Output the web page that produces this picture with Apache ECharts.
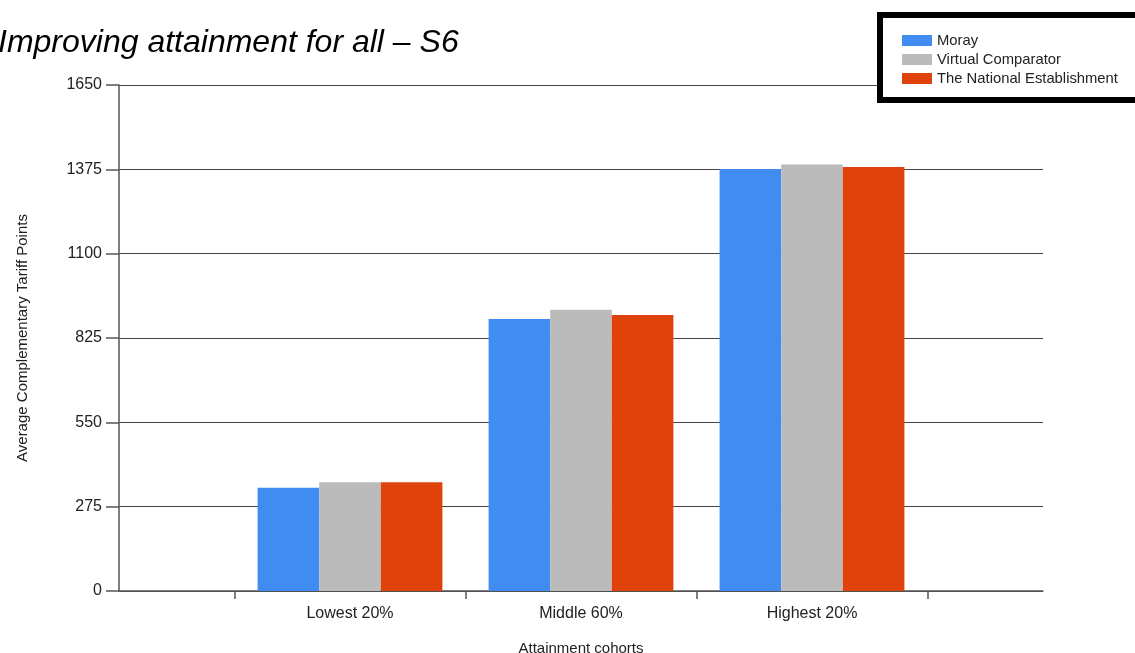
<!DOCTYPE html>
<html>
<head>
<meta charset="utf-8">
<script src="https://cdn.jsdelivr.net/npm/echarts@6/dist/echarts.min.js"></script>
<style>
  html, body { margin: 0; padding: 0; background: #fff; }
  #chart { width: 1135px; height: 653px; }
</style>
</head>
<body>
<div id="chart"></div>
<script>
// padded with empty slots either side so the cohorts sit where the original puts them
const cohorts = ["", "Lowest 20%", "Middle 60%", "Highest 20%", ""];
const seriesNames = ["Moray", "Virtual Comparator", "The National Establishment"];
const moray = [337, 887, 1376];
const virtualComparator = [355, 917, 1391];
const nationalEstablishment = [355, 900, 1383];
const cohortTicks = [0.5, 1.5, 2.5, 3.5];
const colors = ["#418cf0", "#bbbbbb", "#e0420c"];

const FONT = "'Liberation Sans', Arial, sans-serif";
const chart = echarts.init(document.getElementById("chart"));

const pad = (values) => [null, ...values, null];

const makeBar = (name, values, color) => ({
    name,
    type: "bar",
    xAxisIndex: 0,
    data: pad(values),
    itemStyle: { color },
    barGap: 0,
    barCategoryGap: "20%",
    emphasis: { disabled: true },
});

const option = {
    animation: false,
    title: {
        text: "Improving attainment for all \u2013 S6",
        left: -2,
        top: 27,
        padding: 0,
        textStyle: {
            fontFamily: FONT,
            fontStyle: "italic",
            fontWeight: "normal",
            fontSize: 32,
            lineHeight: 32,
            color: "#000",
        },
    },
    legend: {
        orient: "vertical",
        left: 902,
        top: 33,
        padding: 0,
        z: 6,
        itemWidth: 30,
        itemHeight: 11,
        itemGap: 4,
        icon: "rect",
        data: seriesNames,
        textStyle: { fontFamily: FONT, fontSize: 14.8, lineHeight: 15, color: "#222" },
    },
    graphic: [
        {
            type: "rect",
            z: 5,
            shape: { x: 880, y: 15, width: 262, height: 85 },
            style: { fill: "#fff", stroke: "#000", lineWidth: 6 },
        },
    ],
    grid: { left: 119, right: 92, top: 85, bottom: 62, outerBoundsMode: "none" },
    xAxis: [
        {
            type: "category",
            data: cohorts,
            boundaryGap: false,
            name: "Attainment cohorts",
            nameLocation: "middle",
            nameGap: 50,
            nameTextStyle: { fontFamily: FONT, fontSize: 15, color: "#222" },
            axisLine: { lineStyle: { color: "#555", width: 1.5 } },
            axisTick: { show: false },
            axisLabel: { fontFamily: FONT, fontSize: 16, color: "#222", margin: 15, interval: 0 },
            splitLine: { show: false },
        },
        {
            type: "value",
            min: 0,
            max: 4,
            position: "bottom",
            axisLine: { show: false },
            axisLabel: { show: false },
            splitLine: { show: false },
            axisTick: {
                show: true,
                length: 8,
                customValues: cohortTicks,
                lineStyle: { color: "#555", width: 1.5 },
            },
        },
    ],
    yAxis: {
        type: "value",
        min: 0,
        max: 1650,
        interval: 275,
        name: "Average Complementary Tariff Points",
        nameLocation: "middle",
        nameGap: 89,
        nameTextStyle: { fontFamily: FONT, fontSize: 15, color: "#222" },
        axisLine: { show: true, lineStyle: { color: "#555", width: 1.5 } },
        axisTick: { show: true, length: 13, lineStyle: { color: "#555", width: 1.5 } },
        axisLabel: {
            fontFamily: FONT,
            fontSize: 16,
            color: "#222",
            margin: 17,
            formatter: (v) => String(v),
        },
        splitLine: { lineStyle: { color: "#444", width: 1.2 } },
    },
    series: [
        makeBar(seriesNames[0], moray, colors[0]),
        makeBar(seriesNames[1], virtualComparator, colors[1]),
        makeBar(seriesNames[2], nationalEstablishment, colors[2]),
    ],
};

chart.setOption(option);
</script>
</body>
</html>
